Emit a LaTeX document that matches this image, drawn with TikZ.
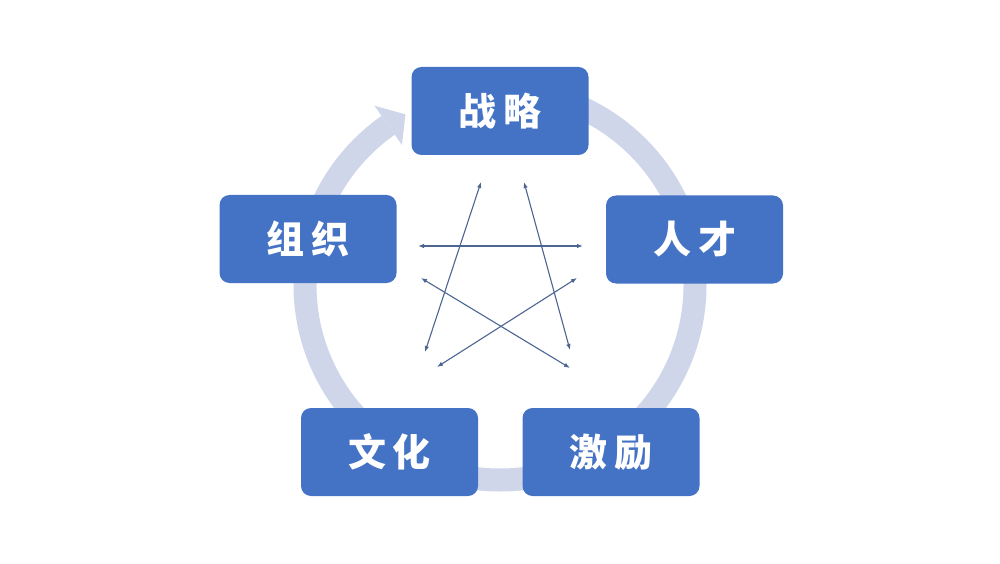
\documentclass[tikz,border=0pt]{standalone}
\usepackage{fontspec}
\newfontfamily\cjk{Noto Sans CJK SC}
\usetikzlibrary{arrows.meta,calc}
\definecolor{boxblue}{HTML}{4472C4}
\definecolor{ringcol}{HTML}{D0D6EA}
\definecolor{starcol}{HTML}{4D6591}
\tikzset{
  box/.style={fill=boxblue, draw=none, rounded corners=10pt, minimum width=177pt, minimum height=88pt, text=white, font=\cjk\bfseries\fontsize{38pt}{40pt}\selectfont, inner sep=0pt},
  ring/.style={draw=ringcol, line width=23pt},
  star/.style={draw=starcol, line width=1.1pt, {Latex[length=6pt,width=4.5pt]}-{Latex[length=6pt,width=4.5pt]}}
}
\newcommand{\gapc}{\hspace{7pt}}
\begin{document}
\begin{tikzpicture}[x=1pt,y=1pt]
\useasboundingbox (0,0) rectangle (1000,563);
\fill[white] (0,0) rectangle (1000,563);
\coordinate (C) at (500,278);
% ring
\draw[ring] ($(C)+(90:195)$) arc[start angle=90, end angle=-235, radius=195];
\fill[ringcol] ($(C)+(125:219)$) -- ($(C)+(119:195)$) -- ($(C)+(125:171)$) -- cycle;
% boxes
\node[box] (zl) at (500,452) {战\gapc 略};
\node[box] (rc) at (694.5,323.5) {人\gapc 才};
\node[box] (zz) at (308,324) {组\gapc 织};
\node[box] (wh) at (389.5,111) {文\gapc 化};
\node[box] (jl) at (611,111) {激\gapc 励};
% star endpoints
\coordinate (a1) at (425,211); \coordinate (b1) at (481,381);
\coordinate (a2) at (524,381); \coordinate (b2) at (570,213);
\coordinate (a3) at (418,317); \coordinate (b3) at (583,317);
\coordinate (a4) at (421,285); \coordinate (b4) at (570,195);
\coordinate (a5) at (437,196); \coordinate (b5) at (577,285);
\draw[star] (a1) -- (b1);
\draw[star] (a2) -- (b2);
\draw[star] (a3) -- (b3);
\draw[star] (a4) -- (b4);
\draw[star] (a5) -- (b5);
\end{tikzpicture}
\end{document}
